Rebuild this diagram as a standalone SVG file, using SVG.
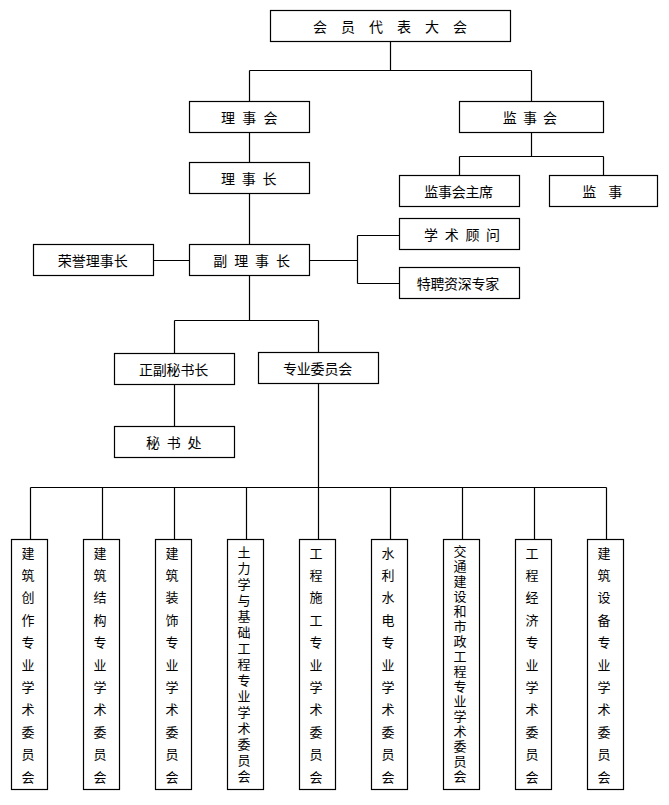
<svg xmlns="http://www.w3.org/2000/svg" width="669" height="805" viewBox="0 0 669 805">
<style>
rect{fill:#fff;stroke:#000;stroke-width:1.2}
.c path{fill:none;stroke:#000;stroke-width:1.2}
text{font-family:"Noto Sans CJK SC","Noto Sans CJK JP",sans-serif;font-size:14px;fill:#000}
.v{font-size:13px;text-anchor:middle}
</style>
<rect x="0" y="0" width="669" height="805" style="fill:#fff;stroke:none"/>
<g class="c" id="connectors">
<path d="M390.5 41.5V70.5M249.5 70.5H531.5M249.5 70.5V101.5M531.5 70.5V101.5"/>
<path d="M249.5 132.5V162.5M249.5 193.5V244.5"/>
<path d="M531.5 132.5V156.5M459.5 156.5H603.5M459.5 156.5V175.5M603.5 156.5V175.5"/>
<path d="M153.5 260.5H189.5M309.5 260.5H357.5M357.5 235.5V283.5M357.5 235.5H399.5M357.5 283.5H399.5"/>
<path d="M249.5 275.5V320.5M174.5 320.5H318.5M174.5 320.5V353.5M318.5 320.5V352.5"/>
<path d="M174.5 384.5V426.5M318.5 383.5V487.5M30.5 487.5H606.5"/>
<path d="M30.5 487.5V539.5M102.5 487.5V539.5M174.5 487.5V539.5M246.5 487.5V539.5M318.5 487.5V539.5M390.5 487.5V539.5M462.5 487.5V539.5M534.5 487.5V539.5M606.5 487.5V539.5"/>
</g>
<g id="n-hydbdh"><rect x="270.5" y="10.5" width="240" height="31"/><text x="313" y="31.5" letter-spacing="14">会员代表大会</text></g>
<g id="n-lsh"><rect x="189.5" y="101.5" width="120" height="31"/><text x="221" y="123" letter-spacing="7.3">理事会</text></g>
<g id="n-jsh"><rect x="459.5" y="101.5" width="144" height="31"/><text x="502.7" y="123" letter-spacing="6.2">监事会</text></g>
<g id="n-lsz"><rect x="189.5" y="162.5" width="120" height="31"/><text x="221" y="184" letter-spacing="6.8">理事长</text></g>
<g id="n-jshzx"><rect x="399.5" y="175.5" width="120" height="31"/><text x="424.3" y="196.5" letter-spacing="-0.3">监事会主席</text></g>
<g id="n-js"><rect x="549.5" y="175.5" width="108" height="31"/><text x="582.3" y="196.5" letter-spacing="12">监事</text></g>
<g id="n-xsgw"><rect x="399.5" y="218.5" width="120" height="31"/><text x="424" y="239.5" letter-spacing="6.7">学术顾问</text></g>
<g id="n-tpzszj"><rect x="399.5" y="267.5" width="120" height="31"/><text x="416.7" y="288.5" letter-spacing="-0.3">特聘资深专家</text></g>
<g id="n-rylsz"><rect x="33.5" y="244.5" width="120" height="31"/><text x="57.7" y="265.5" letter-spacing="0">荣誉理事长</text></g>
<g id="n-flsz"><rect x="189.5" y="244.5" width="120" height="31"/><text x="213.3" y="265.5" letter-spacing="6.9">副理事长</text></g>
<g id="n-zfmsz"><rect x="114.5" y="353.5" width="120" height="31"/><text x="139" y="374.5" letter-spacing="-0.2">正副秘书长</text></g>
<g id="n-zywyh"><rect x="258.5" y="352.5" width="120" height="31"/><text x="283" y="373.5" letter-spacing="-0.2">专业委员会</text></g>
<g id="n-msc"><rect x="114.5" y="426.5" width="120" height="31"/><text x="146" y="447.5" letter-spacing="6.8">秘书处</text></g>
<g id="n-c1"><rect x="11.5" y="539.5" width="36" height="250"/><text class="v" x="28 28 28 28 28 28 28 28 28 28 28" y="557.5 579.9 602.3 624.7 647.1 669.5 691.9 714.3 736.7 759.1 781.5">建筑创作专业学术委员会</text></g>
<g id="n-c2"><rect x="83.5" y="539.5" width="36" height="250"/><text class="v" x="100 100 100 100 100 100 100 100 100 100 100" y="557.5 579.9 602.3 624.7 647.1 669.5 691.9 714.3 736.7 759.1 781.5">建筑结构专业学术委员会</text></g>
<g id="n-c3"><rect x="155.5" y="539.5" width="36" height="250"/><text class="v" x="172 172 172 172 172 172 172 172 172 172 172" y="557.5 579.9 602.3 624.7 647.1 669.5 691.9 714.3 736.7 759.1 781.5">建筑装饰专业学术委员会</text></g>
<g id="n-c4"><rect x="227.5" y="539.5" width="36" height="250"/><text class="v" x="244 244 244 244 244 244 244 244 244 244 244 244 244 244 244" y="556.8 572.8 588.9 604.9 621 637 653 669.1 685.1 701.2 717.2 733.2 749.3 765.3 781.4">土力学与基础工程专业学术委员会</text></g>
<g id="n-c5"><rect x="299.5" y="539.5" width="36" height="250"/><text class="v" x="316 316 316 316 316 316 316 316 316 316 316" y="557.5 579.9 602.3 624.7 647.1 669.5 691.9 714.3 736.7 759.1 781.5">工程施工专业学术委员会</text></g>
<g id="n-c6"><rect x="371.5" y="539.5" width="36" height="250"/><text class="v" x="388 388 388 388 388 388 388 388 388 388 388" y="557.5 579.9 602.3 624.7 647.1 669.5 691.9 714.3 736.7 759.1 781.5">水利水电专业学术委员会</text></g>
<g id="n-c7"><rect x="443.5" y="539.5" width="36" height="250"/><text class="v" x="460 460 460 460 460 460 460 460 460 460 460 460 460 460 460 460" y="555.8 570.8 585.9 600.9 615.9 631 646 661 676 691.1 706.1 721.1 736.2 751.2 766.2 781.3">交通建设和市政工程专业学术委员会</text></g>
<g id="n-c8"><rect x="515.5" y="539.5" width="36" height="250"/><text class="v" x="532 532 532 532 532 532 532 532 532 532 532" y="557.5 579.9 602.3 624.7 647.1 669.5 691.9 714.3 736.7 759.1 781.5">工程经济专业学术委员会</text></g>
<g id="n-c9"><rect x="587.5" y="539.5" width="36" height="250"/><text class="v" x="604 604 604 604 604 604 604 604 604 604 604" y="557.5 579.9 602.3 624.7 647.1 669.5 691.9 714.3 736.7 759.1 781.5">建筑设备专业学术委员会</text></g>
</svg>
